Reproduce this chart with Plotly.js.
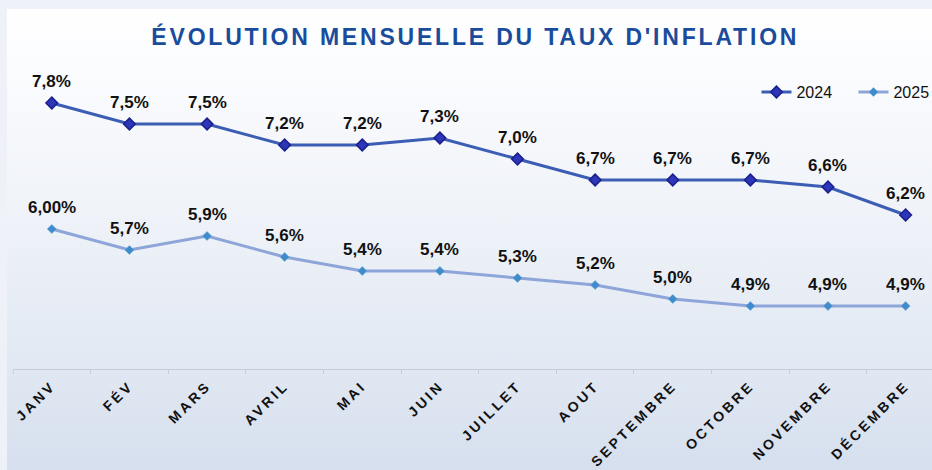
<!DOCTYPE html>
<html>
<head>
<meta charset="utf-8">
<script src="https://cdn.plot.ly/plotly-3.0.1.min.js"></script>
<style>
  html, body { margin: 0; padding: 0; }
  body { background: #eef2f8; }
  #chart {
    width: 932px; height: 470px;
    background: linear-gradient(to bottom, #ffffff 0%, #fbfcfe 12%, #f1f4f9 40%, #e2e9f3 75%, #d6dfee 100%) 7px 9px / 925px 461px no-repeat, #eef2f8;
  }
  .gtitle { letter-spacing: 2.8px; }
  .xtick text { letter-spacing: 3px; }
</style>
</head>
<body>
<div id="chart"></div>
<script>
const months = ["JANV","FÉV","MARS","AVRIL","MAI","JUIN","JUILLET","AOUT","SEPTEMBRE","OCTOBRE","NOVEMBRE","DÉCEMBRE"];
const values2024 = [7.8, 7.5, 7.5, 7.2, 7.2, 7.3, 7.0, 6.7, 6.7, 6.7, 6.6, 6.2];
const labels2024 = ["7,8%","7,5%","7,5%","7,2%","7,2%","7,3%","7,0%","6,7%","6,7%","6,7%","6,6%","6,2%"];
const values2025 = [6.0, 5.7, 5.9, 5.6, 5.4, 5.4, 5.3, 5.2, 5.0, 4.9, 4.9, 4.9];
const labels2025 = ["6,00%","5,7%","5,9%","5,6%","5,4%","5,4%","5,3%","5,2%","5,0%","4,9%","4,9%","4,9%"];

const labelFont = {family: "Liberation Sans, Arial, sans-serif", size: 17, color: "#111111", weight: "bold"};

const traces = [
  {
    name: "2024", x: months, y: values2024,
    type: "scatter", mode: "lines+markers", cliponaxis: false, hoverinfo: "skip",
    line: {color: "#3c5db4", width: 3},
    marker: {symbol: "diamond", size: 9, color: "#2c36b8", line: {color: "#1a1f8c", width: 1.5}}
  },
  {
    name: "2025", x: months, y: values2025,
    type: "scatter", mode: "lines+markers", cliponaxis: false, hoverinfo: "skip",
    line: {color: "#8da5d8", width: 3},
    marker: {symbol: "diamond", size: 7, color: "#3f8ccc", line: {color: "#6aa3d6", width: 0.5}}
  }
];

const annotations = [];
months.forEach((m, i) => {
  annotations.push({x: m, y: values2024[i], xref: "x", yref: "y", text: labels2024[i],
    showarrow: false, yanchor: "middle", yshift: 22, font: labelFont});
  annotations.push({x: m, y: values2025[i], xref: "x", yref: "y", text: labels2025[i],
    showarrow: false, yanchor: "middle", yshift: 22, font: labelFont});
});

const layout = {
  width: 932, height: 470,
  margin: {l: 13, r: 0, t: 47, b: 101, autoexpand: false},
  paper_bgcolor: "rgba(0,0,0,0)",
  plot_bgcolor: "rgba(0,0,0,0)",
  title: {
    text: "ÉVOLUTION MENSUELLE DU TAUX D'INFLATION",
    font: {family: "Liberation Sans Narrow, Liberation Sans, Arial, sans-serif", size: 23, color: "#1a4c9c", weight: "bold"},
    x: 0.51, xanchor: "center", y: 0.922, yanchor: "middle"
  },
  annotations: annotations,
  xaxis: {
    type: "category", range: [-0.5, 11.34], automargin: false,
    showline: true, linecolor: "#c9cdd5", linewidth: 1,
    ticks: "outside", tickson: "boundaries", ticklen: 4, tickcolor: "#c9cdd5",
    showgrid: false, zeroline: false,
    tickangle: -45, ticklabelstandoff: 2,
    tickfont: {family: "Liberation Sans, Arial, sans-serif", size: 14, color: "#111111", weight: "bold"}
  },
  yaxis: {
    range: [4, 8.6], visible: false, showgrid: false, zeroline: false, automargin: false
  },
  showlegend: true,
  legend: {
    orientation: "h", x: 0.809, xanchor: "left", y: 0.86, yanchor: "middle",
    font: {family: "Liberation Sans, Arial, sans-serif", size: 16, color: "#111111"},
    bgcolor: "rgba(0,0,0,0)", entrywidth: 52, traceorder: "normal"
  }
};

Plotly.newPlot("chart", traces, layout, {displayModeBar: false, staticPlot: true});
</script>
</body>
</html>
